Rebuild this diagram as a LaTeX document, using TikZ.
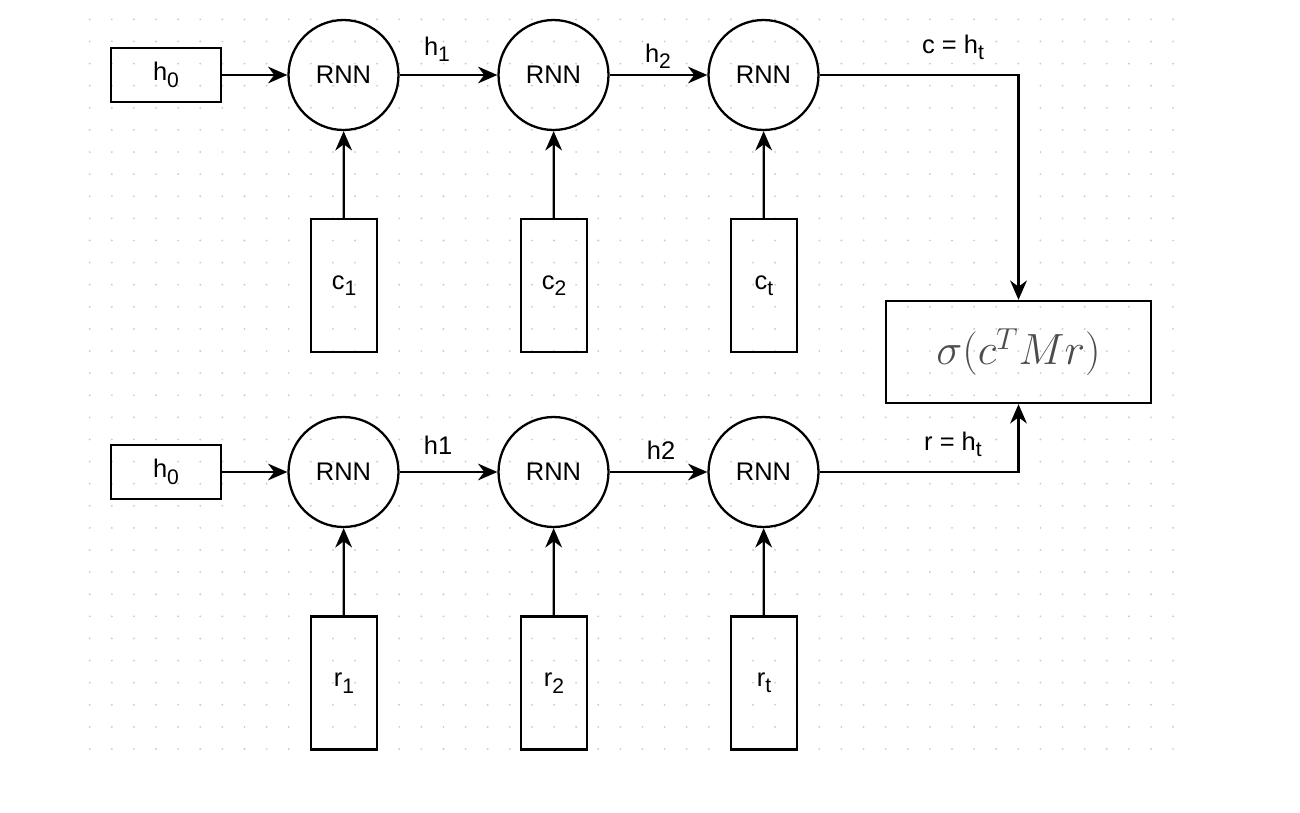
\documentclass[tikz,border=0pt]{standalone}
\usepackage[no-math]{fontspec}
\setmainfont{Liberation Sans}
\usetikzlibrary{arrows.meta}
\newcommand{\indice}[1]{\raisebox{-3.6pt}{\fontsize{12pt}{14pt}\selectfont #1}}
\begin{document}
\begin{tikzpicture}
  [x=0.02cm, y=-0.02cm,
  cellule/.style={
    draw=black,
    circle,
    minimum size=2.2cm,
    inner sep=0pt,
    line width=1.3pt,
    font=\fontsize{14.5pt}{17pt}\selectfont}, etat/.style={
    draw=black,
    rectangle,
    minimum width=2.2cm,
    minimum height=1.08cm,
    inner sep=0pt,
    line width=1.3pt,
    font=\fontsize{14.5pt}{17pt}\selectfont}, entree/.style={
    draw=black,
    rectangle,
    minimum width=1.32cm,
    minimum height=2.66cm,
    inner sep=0pt,
    line width=1.3pt,
    font=\fontsize{14.5pt}{17pt}\selectfont}, score/.style={
    draw=black,
    rectangle,
    minimum width=5.3cm,
    minimum height=2.04cm,
    inner sep=0pt,
    line width=1.3pt,
    text=black!70,
    font=\fontsize{24pt}{28pt}\selectfont}, etiquette/.style={
    anchor=base,
    inner sep=0pt,
    font=\fontsize{14.5pt}{17pt}\selectfont}, fleche/.style={
    line width=1.3pt,
    -{Stealth[length=11pt, width=9.5pt, inset=3.5pt]}}]

  \useasboundingbox (0,0) rectangle (1300,812);

  % grille de fond
  \foreach \i in {0,...,49}
    \foreach \j in {0,...,34}
      \fill [black!20] (89.7+22.11*\i, 749-22.11*\j) circle (0.6pt);

  % chaine du contexte
  \node [etat] at (166,75) (h0c) {h\indice{0}};
  \node [cellule] at (343.5,75) (rnnc1) {RNN};
  \node [cellule] at (553.5,75) (rnnc2) {RNN};
  \node [cellule] at (763.5,75) (rnnc3) {RNN};
  \node [entree] at (344,285.5) (c1) {c\indice{1}};
  \node [entree] at (554,285.5) (c2) {c\indice{2}};
  \node [entree] at (764,285.5) (ct) {c\indice{t}};

  % chaine de la reponse
  \node [etat] at (166,472) (h0r) {h\indice{0}};
  \node [cellule] at (343.5,472) (rnnr1) {RNN};
  \node [cellule] at (553.5,472) (rnnr2) {RNN};
  \node [cellule] at (763.5,472) (rnnr3) {RNN};
  \node [entree] at (344,683) (r1) {r\indice{1}};
  \node [entree] at (554,683) (r2) {r\indice{2}};
  \node [entree] at (764,683) (rt) {r\indice{t}};

  \node [score] at (1018.5,352) (score) {$\sigma(c^T M r)$};

  % etiquettes
  \node [etiquette] at (437,55) (lh1c) {h\indice{1}};
  \node [etiquette] at (658,62) (lh2c) {h\indice{2}};
  \node [etiquette] at (953,53) (lc) {c = h\indice{t}};
  \node [etiquette] at (438,454) (lh1r) {h1};
  \node [etiquette] at (661,459) (lh2r) {h2};
  \node [etiquette] at (953,450) (lr) {r = h\indice{t}};

  \draw [fleche] (h0c) -- (rnnc1);
  \draw [fleche] (rnnc1) -- (rnnc2);
  \draw [fleche] (rnnc2) -- (rnnc3);
  \draw [fleche] (c1) -- (rnnc1);
  \draw [fleche] (c2) -- (rnnc2);
  \draw [fleche] (ct) -- (rnnc3);
  \draw [fleche] (rnnc3) -| (score);

  \draw [fleche] (h0r) -- (rnnr1);
  \draw [fleche] (rnnr1) -- (rnnr2);
  \draw [fleche] (rnnr2) -- (rnnr3);
  \draw [fleche] (r1) -- (rnnr1);
  \draw [fleche] (r2) -- (rnnr2);
  \draw [fleche] (rt) -- (rnnr3);
  \draw [fleche] (rnnr3) -| (score);
\end{tikzpicture}
\end{document}
